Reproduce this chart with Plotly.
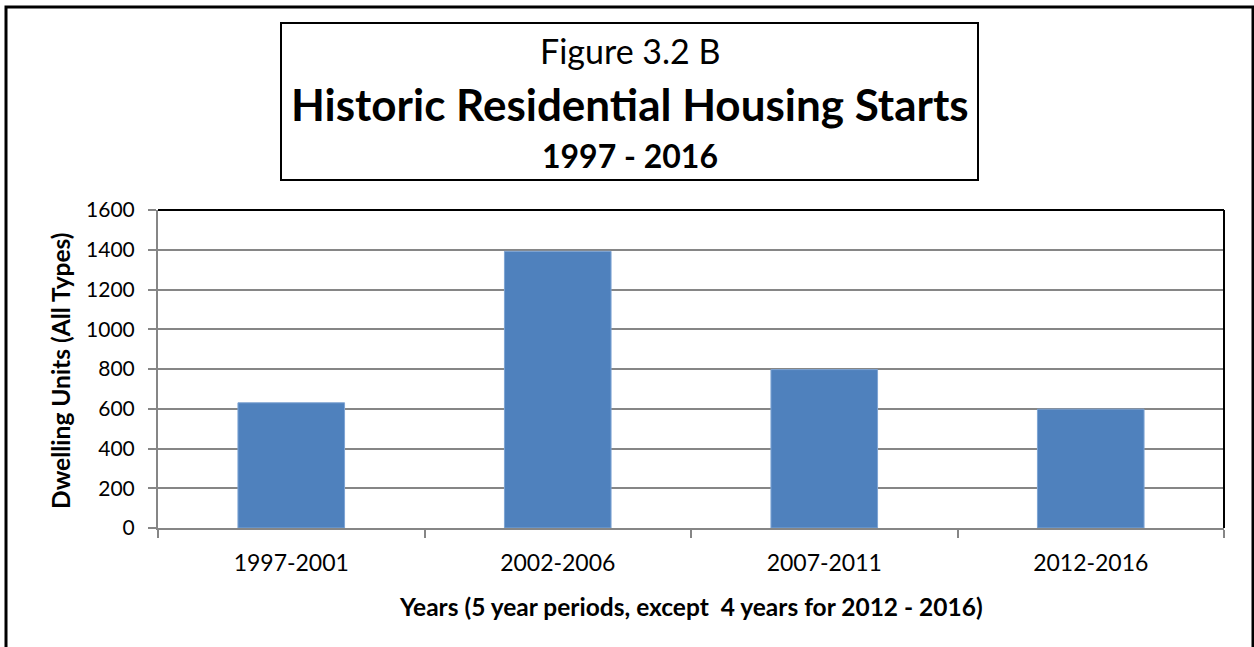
import plotly.graph_objects as go

W, H = 1254, 647

# Data
periods = ["1997-2001", "2002-2006", "2007-2011", "2012-2016"]
starts = [630, 1392, 797, 598]
y_ticks = [0, 200, 400, 600, 800, 1000, 1200, 1400, 1600]

FONT = "Lato, 'Open Sans', sans-serif"
GRID = "#868686"
BAR = "#4F81BD"

# Plot area in pixels
PL, PR, PT, PB = 158, 1224, 210, 528


def px(x):
    return x / W


def py(y):
    return 1 - y / H


fig = go.Figure()
fig.add_trace(go.Bar(
    x=periods, y=starts,
    width=0.4,
    marker=dict(color=BAR, line=dict(color="#7EA4D3", width=1)),
    hoverinfo="x+y",
))

fig.update_layout(
    template="none",
    width=W, height=H,
    margin=dict(l=0, r=0, t=0, b=0, pad=0),
    paper_bgcolor="white", plot_bgcolor="white",
    showlegend=False,
    font=dict(family=FONT, color="black"),
    xaxis=dict(
        domain=[px(PL), px(PR)],
        automargin=False,
        showline=True, linecolor=GRID, linewidth=2,
        ticks="outside", tickson="boundaries", ticklen=8, tickcolor=GRID, tickwidth=2,
        ticklabelstandoff=13,
        tickfont=dict(size=23, family=FONT, color="black"),
        showgrid=False,
    ),
    yaxis=dict(
        domain=[1 - PB / H, 1 - PT / H],
        automargin=False,
        range=[0, 1600], tickvals=y_ticks,
        showline=True, linecolor=GRID, linewidth=2,
        ticks="outside", ticklen=8, tickcolor=GRID, tickwidth=2,
        ticklabelstandoff=9,
        showgrid=True, gridcolor=GRID, gridwidth=2,
        zeroline=False,
        tickfont=dict(size=21, family=FONT, color="black"),
    ),
)

shapes = [
    # outer frame
    dict(type="rect", xref="paper", yref="paper",
         x0=px(6), x1=px(1253), y0=py(680), y1=py(7),
         line=dict(color="black", width=3), fillcolor="rgba(0,0,0,0)"),
    # title box
    dict(type="rect", xref="paper", yref="paper",
         x0=px(281), x1=px(978), y0=py(180), y1=py(23),
         line=dict(color="black", width=2), fillcolor="white"),
    # plot area top and right borders
    dict(type="line", xref="paper", yref="paper",
         x0=px(PL), x1=px(PR), y0=py(PT), y1=py(PT),
         line=dict(color="black", width=2)),
    dict(type="line", xref="paper", yref="paper",
         x0=px(PR), x1=px(PR), y0=py(PT), y1=py(PB),
         line=dict(color="black", width=2)),
]
fig.update_layout(shapes=shapes)

annotations = [
    dict(text="Figure 3.2 B", x=px(630), y=py(51), font=dict(size=34)),
    dict(text="<b>Historic Residential Housing Starts</b>", x=px(630), y=py(104), font=dict(size=44)),
    dict(text="<b>1997 - 2016</b>", x=px(630), y=py(155), font=dict(size=32)),
    dict(text="<b>Dwelling Units (All Types)</b>", x=px(60), y=py(371), textangle=-90,
         font=dict(size=24.5)),
    dict(text="<b>Years (5 year periods, except \u00a04 years for 2012 - 2016)</b>",
         x=px(691), y=py(606), font=dict(size=24.5)),
]
for a in annotations:
    a.update(xref="paper", yref="paper", xanchor="center", yanchor="middle",
             showarrow=False)
    a["font"].update(family=FONT, color="black")
fig.update_layout(annotations=annotations)

fig.write_html("out.html")
